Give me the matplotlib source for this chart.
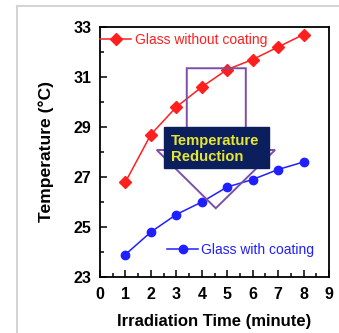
import matplotlib
matplotlib.use("Agg")
import matplotlib.pyplot as plt
from matplotlib.lines import Line2D
from matplotlib.patches import Polygon, Rectangle
from matplotlib.ticker import MultipleLocator

plt.rcParams['font.family'] = ['Liberation Sans', 'DejaVu Sans']

time_min = [1, 2, 3, 4, 5, 6, 7, 8]
temp_without = [26.8, 28.7, 29.8, 30.6, 31.3, 31.7, 32.2, 32.7]
temp_with = [23.9, 24.8, 25.5, 26.0, 26.6, 26.9, 27.3, 27.6]
x_ticks = [0, 1, 2, 3, 4, 5, 6, 7, 8, 9]
y_ticks = [23, 25, 27, 29, 31, 33]

red = '#ff1f1f'
blue = '#1f1fff'
purple = '#7b4fa6'

fig = plt.figure(figsize=(3.39, 3.33), dpi=100)
ax = fig.add_axes([100/339, 1-277/333, 229/339, 250/333])

l1, = ax.plot(time_min, temp_without, color=red, lw=1.1, marker='D', ms=5.8, label='Glass without coating')
l2, = ax.plot(time_min, temp_with, color=blue, lw=1.1, marker='o', ms=6, label='Glass with coating')

ax.set_xlim(0, 9)
ax.set_ylim(23, 33)
ax.set_xticks(x_ticks)
ax.set_yticks(y_ticks)
ax.xaxis.set_minor_locator(MultipleLocator(0.5))
ax.yaxis.set_minor_locator(MultipleLocator(1))
ax.tick_params(which='both', direction='in', top=False, right=False, width=1.1)
ax.tick_params(which='major', length=5, labelsize=11.5, pad=6)
ax.tick_params(axis='x', which='major', pad=7)
ax.tick_params(which='minor', length=3)
for lab in ax.get_xticklabels() + ax.get_yticklabels():
    lab.set_fontweight('bold')
for s in ax.spines.values():
    s.set_linewidth(1.3)

ax.set_xlabel('Irradiation Time (minute)', fontsize=12, fontweight='bold', labelpad=9)
ax.set_ylabel('Temperature (°C)', fontsize=12.6, fontweight='bold', labelpad=14)

# block arrow outline
arrow = Polygon([(3.41, 31.35), (5.73, 31.35), (5.73, 28.08), (6.88, 28.08),
                 (4.55, 25.75), (2.23, 28.08), (3.41, 28.08)],
                closed=True, fill=False, edgecolor=purple, lw=1.4, zorder=3)
ax.add_patch(arrow)
box = Rectangle((2.52, 27.35), 4.13, 1.66, facecolor='#0b1f5e', edgecolor='#0b1f5e', zorder=4)
ax.add_patch(box)
ax.text(2.78, 28.12, 'Temperature\nReduction', color='#e6e62e', fontsize=10.7,
        fontweight='bold', va='center', ha='left', linespacing=1.2, zorder=5)

leg1 = ax.legend(handles=[l1], loc='center left', bbox_to_anchor=(0.0, 0.948),
                 frameon=False, borderpad=0, borderaxespad=0, handlelength=2.25,
                 handletextpad=0.3, fontsize=10, labelcolor=red)
ax.add_artist(leg1)
ax.legend(handles=[l2], loc='center left', bbox_to_anchor=(0.293, 0.108),
          frameon=False, borderpad=0, borderaxespad=0, handlelength=2.25,
          handletextpad=0.2, fontsize=10, labelcolor=blue)

# light gray frame
fig.add_artist(Line2D([17/339, 1], [1-6/333, 1-6/333], color='#d4d4d4', lw=1.5))
fig.add_artist(Line2D([17/339, 17/339], [0, 1-6/333], color='#d4d4d4', lw=1.5))

fig.savefig('out.png', dpi=100)
